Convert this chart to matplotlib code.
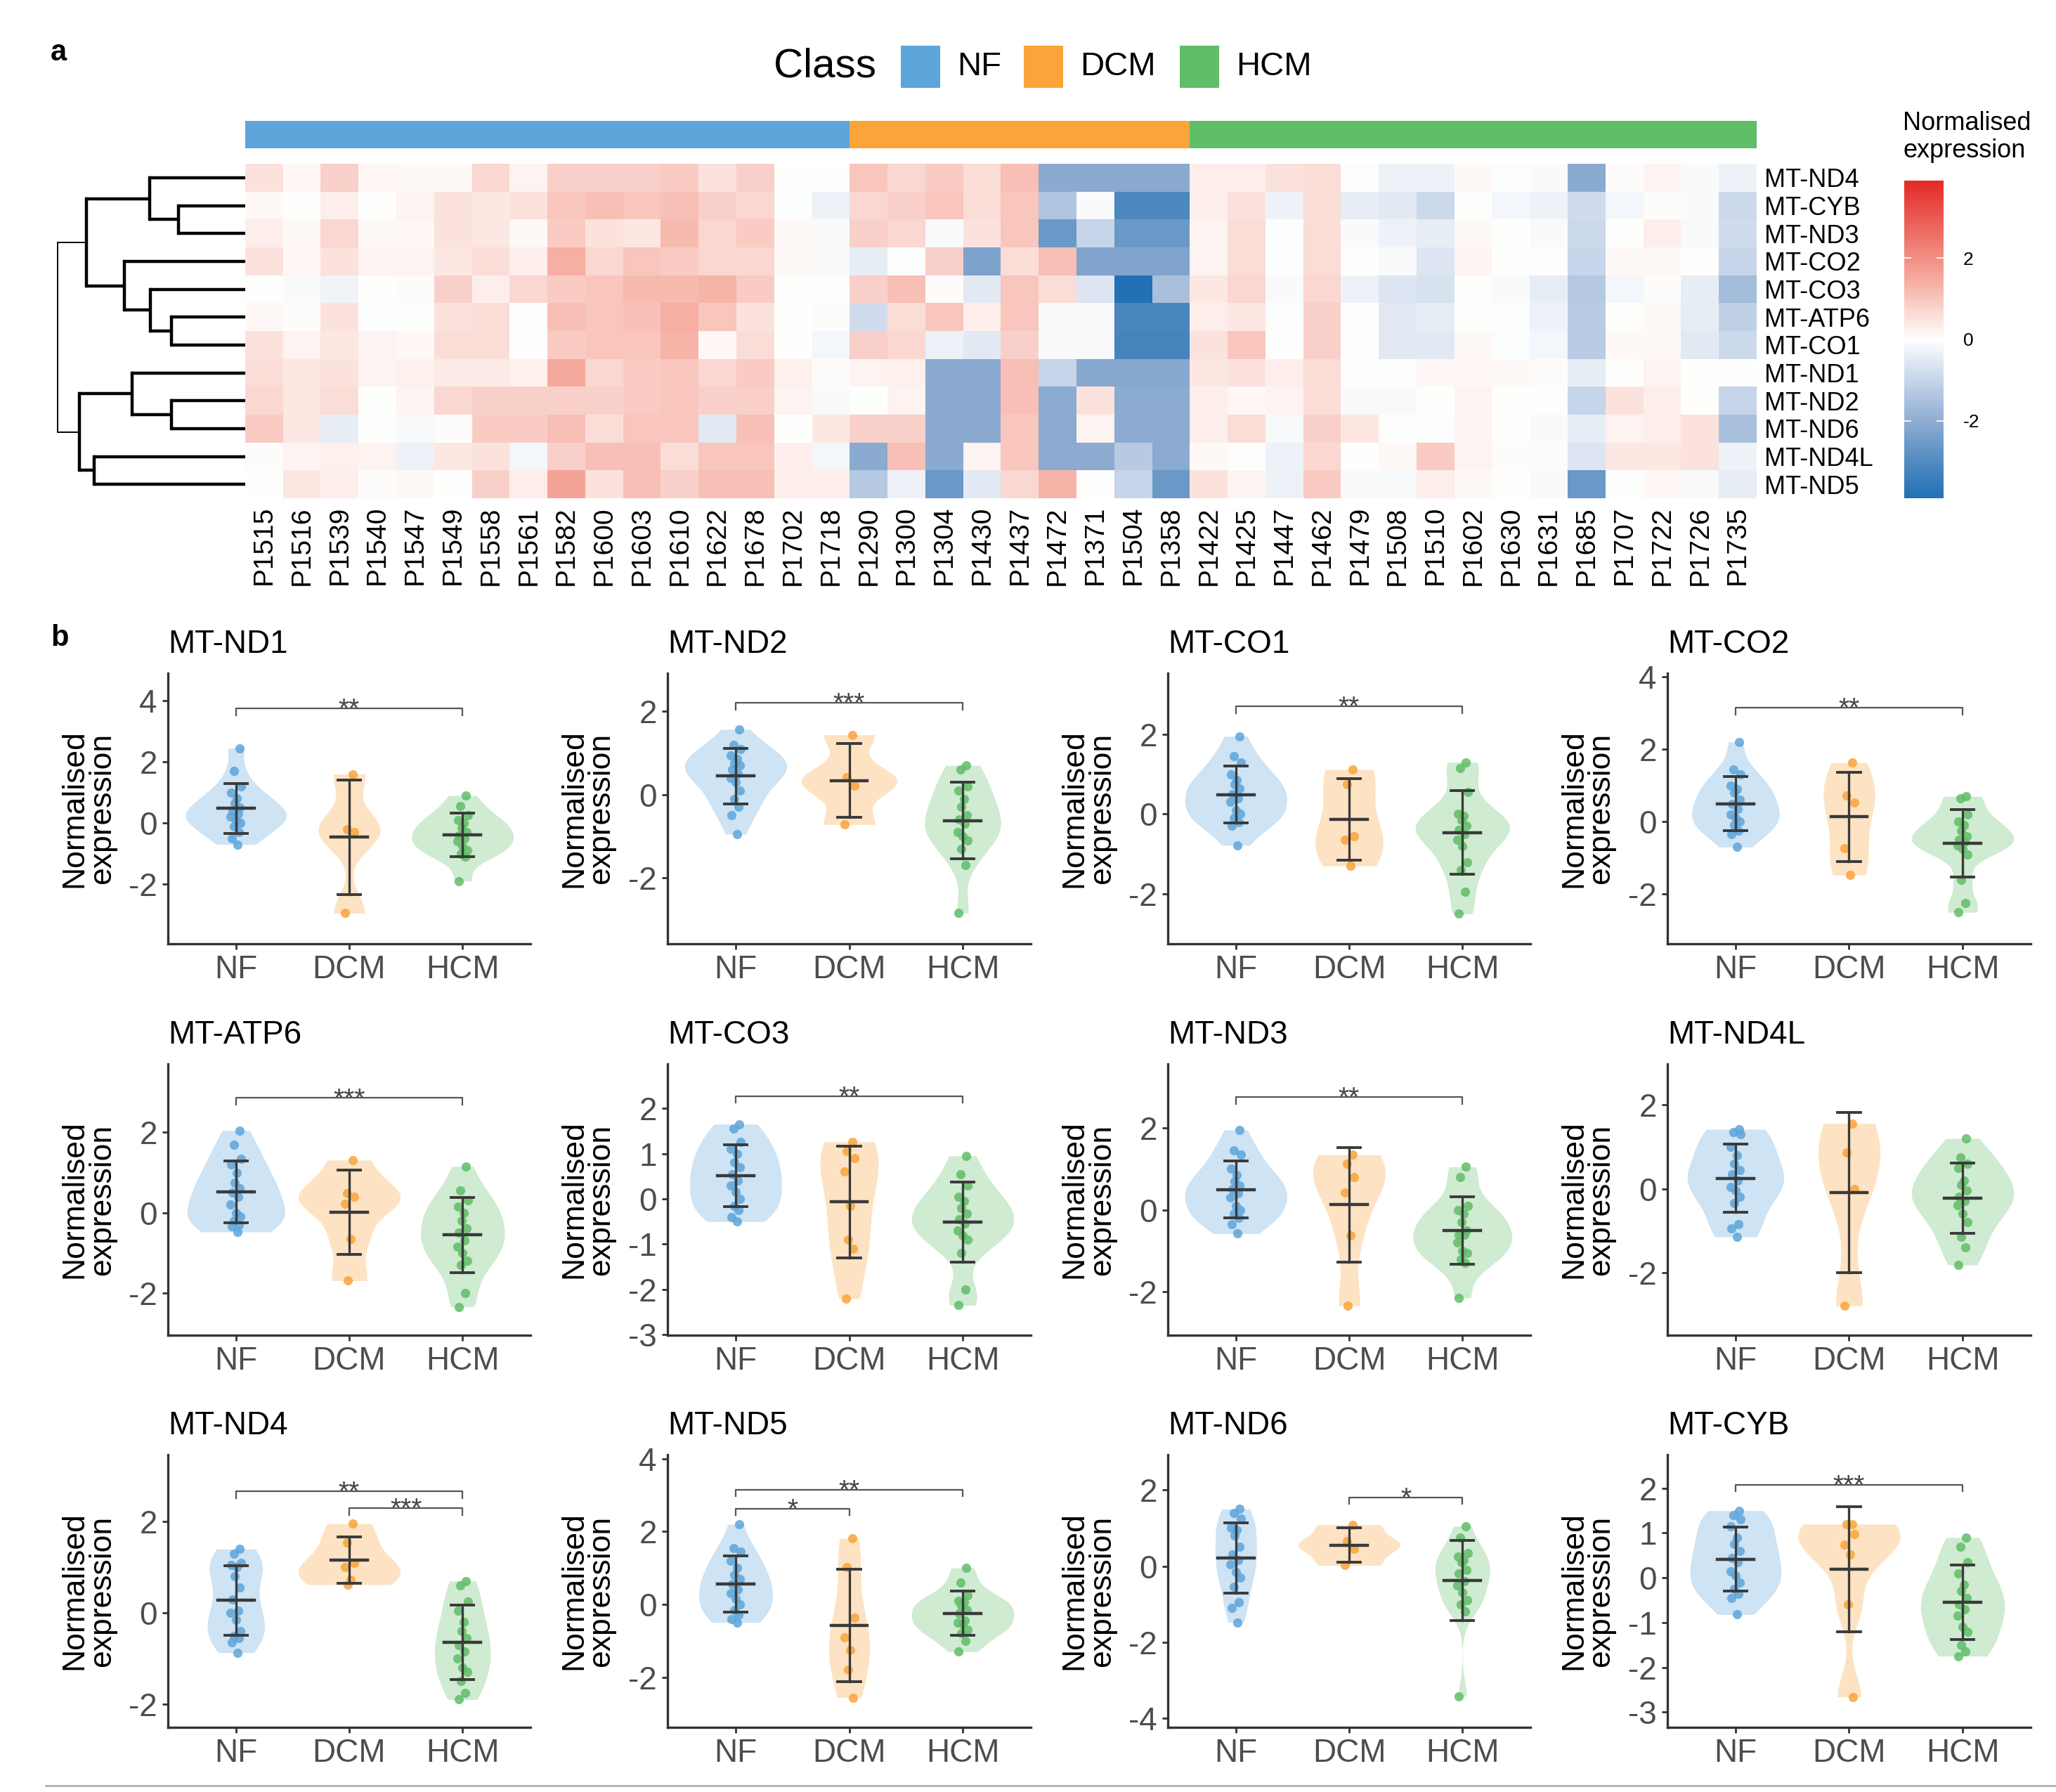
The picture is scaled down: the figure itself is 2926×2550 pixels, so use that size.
import numpy as np
import matplotlib
matplotlib.use("Agg")
import matplotlib.pyplot as plt
from matplotlib.colors import LinearSegmentedColormap, ListedColormap
from matplotlib.patches import Rectangle
from matplotlib.lines import Line2D

plt.rcParams['font.family'] = ['Liberation Sans', 'DejaVu Sans']
plt.rcParams['axes.unicode_minus'] = False

# ---------------- data ----------------
classes = ['NF', 'DCM', 'HCM']
class_colors = ['#5DA5DA', '#FAA43A', '#60BD68']

samples_nf = ['P1515', 'P1516', 'P1539', 'P1540', 'P1547', 'P1549', 'P1558', 'P1561',
              'P1582', 'P1600', 'P1603', 'P1610', 'P1622', 'P1678', 'P1702', 'P1718']
samples_dcm = ['P1290', 'P1300', 'P1304', 'P1430', 'P1437', 'P1472', 'P1371', 'P1504', 'P1358']
samples_hcm = ['P1422', 'P1425', 'P1447', 'P1462', 'P1479', 'P1508', 'P1510', 'P1602',
               'P1630', 'P1631', 'P1685', 'P1707', 'P1722', 'P1726', 'P1735']

heat_genes = ['MT-ND4', 'MT-CYB', 'MT-ND3', 'MT-CO2', 'MT-CO3', 'MT-ATP6',
              'MT-CO1', 'MT-ND1', 'MT-ND2', 'MT-ND6', 'MT-ND4L', 'MT-ND5']

# heatmap rows (columns follow NF, DCM, HCM sample order)
hm_nd4 = [0.5, 0.15, 0.8, 0.15, 0.1, 0.1, 0.7, 0.2, 0.8, 0.8, 0.8, 0.9, 0.5, 0.8, 0.0, 0.0,
          1.0, 0.7, 0.9, 0.6, 1.1, -2.1, -2.1, -2.1, -2.1,
          0.3, 0.3, 0.5, 0.6, -0.05, -0.3, -0.3, 0.1, -0.05, -0.1, -2.1, 0.05, 0.2, -0.1, -0.3]
hm_cyb = [0.1, 0.0, 0.3, 0.0, 0.2, 0.5, 0.4, 0.5, 1.0, 1.1, 1.0, 1.1, 0.8, 0.7, -0.05, -0.3,
          0.7, 0.8, 1.0, 0.6, 1.0, -1.4, -0.1, -3.1, -3.1,
          0.3, 0.5, -0.3, 0.6, -0.4, -0.5, -0.9, 0.0, -0.2, -0.3, -0.8, -0.2, 0.05, -0.1, -0.9]
hm_nd3 = [0.3, 0.1, 0.7, 0.1, 0.15, 0.5, 0.4, 0.1, 0.9, 0.5, 0.4, 1.2, 0.7, 0.9, 0.1, -0.1,
          0.8, 0.7, -0.1, 0.5, 1.0, -2.6, -1.0, -2.6, -2.6,
          0.2, 0.6, -0.05, 0.6, -0.1, -0.3, -0.4, 0.1, 0.0, -0.1, -0.9, 0.0, 0.3, -0.15, -0.8]
hm_co2 = [0.5, 0.15, 0.5, 0.2, 0.2, 0.4, 0.6, 0.3, 1.4, 0.7, 1.0, 0.9, 0.7, 0.7, 0.1, -0.1,
          -0.4, -0.05, 0.8, -2.3, 0.6, 1.1, -2.25, -2.25, -2.25,
          0.2, 0.6, -0.05, 0.6, 0.0, -0.1, -0.6, 0.2, 0.0, 0.0, -1.0, 0.1, 0.1, 0.0, -1.0]
hm_co3 = [0.0, -0.1, -0.25, 0.0, 0.05, 0.8, 0.3, 0.7, 0.9, 1.0, 1.2, 1.2, 1.3, 0.9, 0.0, -0.05,
          0.8, 1.1, 0.05, -0.5, 1.0, 0.6, -0.6, -3.85, -1.5,
          0.4, 0.7, -0.1, 0.7, -0.3, -0.6, -0.7, 0.0, -0.1, -0.4, -1.3, -0.2, 0.05, -0.4, -1.6]
hm_atp6 = [0.1, 0.05, 0.5, -0.05, 0.0, 0.5, 0.6, -0.02, 1.1, 1.0, 1.1, 1.4, 1.0, 0.5, 0.0, 0.05,
           -0.8, 0.6, 1.0, 0.3, 1.0, -0.15, -0.15, -3.15, -3.15,
           0.3, 0.4, -0.05, 0.8, 0.0, -0.5, -0.4, 0.0, -0.05, -0.3, -1.2, 0.0, 0.1, -0.4, -1.1]
hm_co1 = [0.5, 0.2, 0.4, 0.2, 0.15, 0.6, 0.6, 0.0, 0.9, 1.0, 1.0, 1.3, 0.15, 0.6, 0.0, -0.2,
          0.8, 0.7, -0.3, -0.5, 0.8, -0.1, -0.15, -3.2, -3.2,
          0.5, 1.0, 0.0, 0.8, 0.0, -0.5, -0.5, 0.1, -0.05, -0.2, -1.2, 0.1, 0.1, -0.5, -0.9]
hm_nd1 = [0.6, 0.4, 0.5, 0.2, 0.25, 0.35, 0.35, 0.25, 1.5, 0.7, 0.9, 1.0, 0.7, 0.9, 0.25, 0.05,
          0.2, 0.25, -2.1, -2.1, 1.1, -1.0, -2.15, -2.15, -2.15,
          0.4, 0.5, 0.3, 0.6, 0.0, -0.05, 0.15, 0.15, 0.1, 0.05, -0.4, 0.0, 0.2, 0.0, 0.0]
hm_nd2 = [0.7, 0.4, 0.6, 0.0, 0.2, 0.7, 0.8, 0.8, 0.8, 0.8, 0.9, 1.0, 0.8, 0.8, 0.2, -0.1,
          0.0, 0.2, -2.1, -2.1, 1.1, -2.05, 0.5, -2.05, -2.05,
          0.3, 0.15, 0.2, 0.6, -0.1, -0.15, 0.0, 0.2, 0.0, 0.0, -1.0, 0.5, 0.3, 0.0, -1.0]
hm_nd6 = [0.9, 0.4, -0.4, 0.0, -0.15, 0.05, 0.9, 0.9, 1.1, 0.6, 1.0, 1.0, -0.5, 1.1, 0.0, 0.4,
          0.8, 0.8, -2.1, -2.1, 1.0, -2.05, 0.2, -2.05, -2.05,
          0.3, 0.6, -0.15, 0.8, 0.4, -0.05, -0.05, 0.2, 0.0, -0.1, -0.4, 0.2, 0.3, 0.5, -1.5]
hm_nd4l = [0.05, 0.2, 0.25, 0.2, -0.3, 0.4, 0.5, -0.2, 0.8, 1.1, 1.1, 0.6, 1.0, 1.0, 0.3, -0.2,
           -2.1, 1.1, -2.1, 0.2, 1.0, -2.05, -2.05, -1.25, -2.05,
           0.1, 0.0, -0.3, 0.7, 0.0, 0.1, 0.9, 0.2, 0.05, 0.05, -0.6, 0.4, 0.4, 0.5, -0.3]
hm_nd5 = [0.0, 0.4, 0.3, 0.05, 0.1, 0.0, 0.8, 0.3, 1.6, 0.5, 1.1, 0.8, 1.1, 1.1, 0.3, 0.3,
          -1.3, -0.3, -2.6, -0.5, 0.7, 1.3, 0.0, -1.0, -2.6,
          0.5, 0.2, -0.3, 0.9, -0.1, -0.1, 0.3, 0.1, 0.0, -0.1, -2.6, 0.0, 0.15, -0.1, -0.4]

# row dendrogram merges: (child a, child b, height); leaves 0..11, new nodes from 12
dendro_merges = [(1, 2, 0.95), (0, 12, 1.36), (5, 6, 1.05), (4, 14, 1.35), (3, 15, 1.71),
                 (13, 16, 2.25), (8, 9, 1.05), (7, 18, 1.60), (10, 11, 2.14),
                 (19, 20, 2.35), (17, 21, 2.66)]

# violin panels: normalised expression per group
ND1 = dict(NF=[2.45, 1.7, 1.2, 1.0, 0.8, 0.65, 0.5, 0.4, 0.3, 0.2, 0.1, 0.0, -0.1, -0.3, -0.5, -0.7],
           DCM=[1.6, -0.2, -0.3, -2.95],
           HCM=[0.9, 0.55, 0.25, 0.1, 0.0, -0.15, -0.3, -0.4, -0.5, -0.6, -0.75, -0.9, -1.0, -1.1, -1.9])
ND2 = dict(NF=[1.57, 1.2, 1.1, 0.95, 0.85, 0.75, 0.7, 0.6, 0.5, 0.4, 0.3, 0.1, -0.1, -0.3, -0.5, -0.95],
           DCM=[1.44, 0.42, 0.22, -0.72],
           HCM=[0.7, 0.6, 0.2, 0.1, -0.1, -0.3, -0.5, -0.6, -0.7, -0.9, -1.0, -1.1, -1.3, -1.7, -2.85])
CO1 = dict(NF=[1.95, 1.45, 1.3, 1.0, 0.85, 0.75, 0.65, 0.5, 0.4, 0.3, 0.1, 0.0, -0.1, -0.2, -0.3, -0.78],
           DCM=[1.12, 0.75, -0.56, -0.65, -1.3],
           HCM=[1.3, 1.15, 0.55, 0.0, -0.05, -0.15, -0.3, -0.4, -0.5, -0.65, -0.8, -1.2, -1.4, -1.95, -2.5])
CO2 = dict(NF=[2.2, 1.45, 1.3, 1.0, 0.9, 0.8, 0.6, 0.5, 0.35, 0.2, 0.1, 0.0, -0.1, -0.25, -0.35, -0.7],
           DCM=[1.63, 0.73, 0.53, -0.73, -1.47],
           HCM=[0.7, 0.65, 0.2, 0.0, -0.1, -0.25, -0.4, -0.5, -0.55, -0.65, -0.75, -0.9, -1.6, -2.25, -2.5])
ATP6 = dict(NF=[2.05, 1.7, 1.35, 1.2, 1.0, 0.75, 0.6, 0.5, 0.4, 0.2, 0.0, -0.1, -0.2, -0.3, -0.35, -0.48],
            DCM=[1.31, 0.49, 0.4, 0.22, -0.66, -1.7],
            HCM=[1.15, 0.55, 0.3, 0.15, 0.0, -0.2, -0.4, -0.5, -0.7, -0.85, -1.0, -1.2, -1.3, -2.0, -2.35])
CO3 = dict(NF=[1.65, 1.55, 1.25, 1.1, 1.0, 0.8, 0.7, 0.55, 0.4, 0.3, 0.15, 0.0, -0.15, -0.25, -0.4, -0.5],
           DCM=[1.26, 1.05, 0.9, 0.6, -0.15, -0.9, -1.1, -2.2],
           HCM=[0.95, 0.55, 0.3, 0.05, -0.05, -0.2, -0.32, -0.45, -0.55, -0.7, -0.8, -0.9, -1.2, -2.0, -2.35])
ND3 = dict(NF=[1.95, 1.45, 1.35, 1.0, 0.85, 0.7, 0.6, 0.5, 0.4, 0.3, 0.1, 0.0, -0.1, -0.2, -0.35, -0.58],
           DCM=[1.34, 1.13, 0.8, 0.42, -0.62, -2.34],
           HCM=[1.05, 0.8, 0.1, 0.0, -0.1, -0.3, -0.5, -0.6, -0.6, -0.8, -1.0, -1.05, -1.2, -1.3, -2.15])
ND4L = dict(NF=[1.42, 1.35, 1.3, 1.0, 0.8, 0.6, 0.45, 0.35, 0.2, 0.05, -0.05, -0.2, -0.35, -0.85, -0.95, -1.15],
            DCM=[1.56, 0.86, -0.01, -2.8],
            HCM=[1.2, 0.75, 0.6, 0.5, 0.2, 0.1, -0.05, -0.2, -0.3, -0.4, -0.6, -0.8, -1.15, -1.4, -1.82])
ND4 = dict(NF=[1.4, 1.3, 1.1, 1.05, 1.0, 0.8, 0.55, 0.3, 0.05, 0.0, -0.15, -0.4, -0.5, -0.55, -0.65, -0.87],
           DCM=[1.96, 1.55, 1.1, 1.0, 0.72, 0.62],
           HCM=[0.7, 0.6, 0.25, 0.05, -0.2, -0.4, -0.55, -0.7, -0.85, -1.0, -1.2, -1.3, -1.5, -1.75, -1.9])
ND5 = dict(NF=[2.2, 1.55, 1.45, 1.2, 1.0, 0.8, 0.7, 0.55, 0.4, 0.3, 0.15, 0.0, -0.15, -0.3, -0.4, -0.5],
           DCM=[1.81, 1.02, -0.36, -0.9, -1.25, -1.8, -2.56],
           HCM=[1.0, 0.6, 0.25, 0.1, 0.05, -0.05, -0.15, -0.25, -0.45, -0.5, -0.55, -0.7, -0.8, -1.0, -1.3])
ND6 = dict(NF=[1.5, 1.4, 1.25, 1.0, 0.95, 0.8, 0.5, 0.3, 0.15, 0.05, -0.15, -0.3, -0.55, -0.95, -1.1, -1.48],
           DCM=[1.09, 0.66, 0.45, 0.02],
           HCM=[1.05, 0.75, 0.35, 0.25, 0.15, 0.1, -0.1, -0.2, -0.4, -0.5, -0.7, -0.9, -1.0, -1.2, -3.42])
CYB = dict(NF=[1.5, 1.4, 1.3, 1.15, 0.9, 0.75, 0.6, 0.45, 0.35, 0.15, 0.05, -0.1, -0.25, -0.35, -0.45, -0.82],
           DCM=[1.2, 1.19, 0.97, 0.74, 0.52, -0.6, -2.66],
           HCM=[0.9, 0.7, 0.35, 0.1, -0.15, -0.3, -0.45, -0.6, -0.7, -0.85, -1.1, -1.2, -1.5, -1.65, -1.75])

panel_genes = ['MT-ND1', 'MT-ND2', 'MT-CO1', 'MT-CO2',
               'MT-ATP6', 'MT-CO3', 'MT-ND3', 'MT-ND4L',
               'MT-ND4', 'MT-ND5', 'MT-ND6', 'MT-CYB']
panel_data = [ND1, ND2, CO1, CO2, ATP6, CO3, ND3, ND4L, ND4, ND5, ND6, CYB]

# significance brackets: (group a, group b, y, label)
signif = {
    'MT-ND1': [(0, 2, 3.75, '**')],
    'MT-ND2': [(0, 2, 2.21, '***')],
    'MT-CO1': [(0, 2, 2.7, '**')],
    'MT-CO2': [(0, 2, 3.15, '**')],
    'MT-ATP6': [(0, 2, 2.86, '***')],
    'MT-CO3': [(0, 2, 2.27, '**')],
    'MT-ND3': [(0, 2, 2.75, '**')],
    'MT-ND4L': [],
    'MT-ND4': [(0, 2, 2.67, '**'), (1, 2, 2.3, '***')],
    'MT-ND5': [(0, 2, 3.15, '**'), (0, 1, 2.63, '*')],
    'MT-ND6': [(1, 2, 1.81, '*')],
    'MT-CYB': [(0, 2, 2.08, '***')],
}

# axis ranges / ticks per panel
panel_ylim = [(-3.95, 4.9), (-3.59, 2.92), (-3.25, 3.53), (-3.37, 4.1),
              (-3.06, 3.71), (-3.01, 2.98), (-3.06, 3.56), (-3.5, 2.98),
              (-2.51, 3.47), (-3.38, 4.11), (-4.24, 2.93), (-3.34, 2.75)]
panel_ticks = [[-2, 0, 2, 4], [-2, 0, 2], [-2, 0, 2], [-2, 0, 2, 4],
               [-2, 0, 2], [-3, -2, -1, 0, 1, 2], [-2, 0, 2], [-2, 0, 2],
               [-2, 0, 2], [-2, 0, 2, 4], [-4, -2, 0, 2], [-3, -2, -1, 0, 1, 2]]

JITTER = [0.03, -0.02, 0.045, -0.04, 0.01, -0.01, 0.035, -0.03,
          0.02, -0.045, 0.0, 0.04, -0.015, 0.025, -0.035, 0.015]

# ---------------- layout helpers ----------------
W, H = 2926, 2550


def box(x0, y0, x1, y1):
    return [x0 / W, 1 - y1 / H, (x1 - x0) / W, (y1 - y0) / H]


fig = plt.figure(figsize=(W / 100, H / 100), dpi=100)

# ---------------- panel a: heatmap ----------------
samples = samples_nf + samples_dcm + samples_hcm
sample_class = [0] * len(samples_nf) + [1] * len(samples_dcm) + [2] * len(samples_hcm)
heat = np.array([hm_nd4, hm_cyb, hm_nd3, hm_co2, hm_co3, hm_atp6,
                 hm_co1, hm_nd1, hm_nd2, hm_nd6, hm_nd4l, hm_nd5])

# blue-white-red ramp, with mid stops to mimic the LAB-style blend
cmap = LinearSegmentedColormap.from_list('ch', [
    (0.0, '#2171B5'), (0.096, '#4A86BF'), (0.231, '#8AAAD0'), (0.372, '#C6D5E9'),
    (0.5, '#FFFFFF'), (0.68, '#F6AFA2'), (1.0, '#E32A26')])

ax_hm = fig.add_axes(box(349, 233, 2500, 709))
im = ax_hm.imshow(heat, cmap=cmap, vmin=-3.9, vmax=3.9, aspect='auto', interpolation='nearest')
ax_hm.set_xticks(range(len(samples)))
ax_hm.set_xticklabels(samples, rotation=90, fontsize=28)
ax_hm.set_yticks(range(len(heat_genes)))
ax_hm.set_yticklabels(heat_genes, fontsize=26)
ax_hm.yaxis.tick_right()
ax_hm.tick_params(length=0, pad=8)
for s in ax_hm.spines.values():
    s.set_visible(False)

# class annotation bar
ax_ann = fig.add_axes(box(349, 172, 2500, 211))
ax_ann.imshow(np.array([sample_class]), cmap=ListedColormap(class_colors), vmin=0, vmax=2,
              aspect='auto', interpolation='nearest')
ax_ann.axis('off')

# class legend
fig.text(1101 / W, 1 - 95 / H, 'Class', fontsize=42, ha='left', va='center')
legend_x = [1282, 1457, 1679]
for cls, col, x in zip(classes, class_colors, legend_x):
    fig.add_artist(Rectangle((x / W, 1 - 125 / H), 56 / W, 60 / H,
                             transform=fig.transFigure, color=col, lw=0))
    fig.text((x + 80) / W, 1 - 95 / H, cls, fontsize=34, ha='left', va='center')

# dendrogram
ax_d = fig.add_axes(box(70, 233, 349, 709))
ypos = {i: float(i) for i in range(len(heat_genes))}
hgt = {i: 0.0 for i in range(len(heat_genes))}
for k, (a, b, h) in enumerate(dendro_merges):
    node = len(heat_genes) + k
    lw = 1.4 if k == len(dendro_merges) - 1 else 3.2
    ax_d.plot([hgt[a], h], [ypos[a], ypos[a]], color='black', lw=lw, solid_capstyle='butt')
    ax_d.plot([hgt[b], h], [ypos[b], ypos[b]], color='black', lw=lw, solid_capstyle='butt')
    ax_d.plot([h, h], [ypos[a], ypos[b]], color='black', lw=lw, solid_capstyle='projecting')
    ypos[node] = (ypos[a] + ypos[b]) / 2
    hgt[node] = h
ax_d.set_xlim(2.78, 0)
ax_d.set_ylim(len(heat_genes) - 0.5, -0.5)
ax_d.axis('off')

# colorbar
cax = fig.add_axes(box(2710, 257, 2766, 709))
cb = fig.colorbar(im, cax=cax, ticks=[-2, 0, 2])
cb.outline.set_visible(False)
cax.tick_params(labelsize=19, length=7, width=1.2, color='white', direction='in',
                left=True, right=True, pad=20)
fig.text(2708 / W, 1 - 158 / H, 'Normalised\nexpression', fontsize=26, ha='left', va='top',
         linespacing=1.15)

fig.text(72 / W, 1 - 75 / H, 'a', fontsize=30, fontweight='bold', ha='left', va='center')
fig.text(72 / W, 1 - 908 / H, 'b', fontsize=30, fontweight='bold', ha='left', va='center')

# ---------------- panel b: violins ----------------
col_x = [(239, 755), (950, 1467), (1662, 2178), (2373, 2890)]
row_y = [(958, 1343), (1514, 1900), (2070, 2458)]


def kde_trim(vals, n=512):
    v = np.asarray(vals, dtype=float)
    sd = v.std(ddof=1)
    q75, q25 = np.percentile(v, [75, 25])
    lo = min(sd, (q75 - q25) / 1.34)
    if lo <= 0:
        lo = sd
    bw = 0.9 * lo * len(v) ** -0.2
    grid = np.linspace(v.min(), v.max(), n)
    dens = np.exp(-0.5 * ((grid[:, None] - v[None, :]) / bw) ** 2).sum(1) / (len(v) * bw * np.sqrt(2 * np.pi))
    return grid, dens


for idx, (gene, data) in enumerate(zip(panel_genes, panel_data)):
    r, c = divmod(idx, 4)
    x0, x1 = col_x[c]
    y0, y1 = row_y[r]
    ax = fig.add_axes(box(x0, y0, x1, y1))

    kdes = [kde_trim(data[g]) for g in classes]
    dmax = max(d.max() for _, d in kdes)
    for i, (g, col) in enumerate(zip(classes, class_colors)):
        xc = i + 1
        grid, dens = kdes[i]
        half = 0.45 * dens / dmax
        ax.fill_betweenx(grid, xc - half, xc + half, color=col, alpha=0.3, lw=0, zorder=1)
        vals = np.asarray(data[g])
        jit = np.array(JITTER[:len(vals)])
        ax.scatter(xc + jit, vals, s=90, color=col, alpha=0.85, lw=0, zorder=2)
        m = vals.mean()
        sd = vals.std(ddof=1)
        ax.plot([xc, xc], [m - sd, m + sd], color='#3A3A3A', lw=2.4, zorder=3)
        for yy in (m - sd, m + sd):
            ax.plot([xc - 0.1, xc + 0.1], [yy, yy], color='#3A3A3A', lw=2.8, zorder=3)
        ax.plot([xc - 0.16, xc + 0.16], [m, m], color='#3A3A3A', lw=3.2, zorder=3)

    ylo, yhi = panel_ylim[idx]
    leg = 0.025 * (yhi - ylo)
    for a, b, yb, lab in signif[gene]:
        ax.plot([a + 1, a + 1, b + 1, b + 1], [yb - leg, yb, yb, yb - leg],
                color='#555555', lw=1.6, zorder=4)
        ax.annotate(lab, xy=((a + b) / 2 + 1, yb), xytext=(0, -9), textcoords='offset points',
                    ha='center', va='baseline', fontsize=28, color='#444444')

    ax.set_xlim(0.4, 3.6)
    ax.set_ylim(ylo, yhi)
    ax.set_xticks([1, 2, 3])
    ax.set_xticklabels(classes)
    ax.set_yticks(panel_ticks[idx])
    ax.tick_params(labelsize=33, labelcolor='#4D4D4D', color='#333333', length=6, width=2, pad=5)
    for s in ('top', 'right'):
        ax.spines[s].set_visible(False)
    for s in ('left', 'bottom'):
        ax.spines[s].set_color('#333333')
        ax.spines[s].set_linewidth(2.4)
    ax.set_title(gene, loc='left', fontsize=33, pad=21)
    ax.text(-0.22, 0.5, 'Normalised\nexpression', transform=ax.transAxes, rotation=90,
            ha='center', va='center', fontsize=32, linespacing=0.95)

fig.add_artist(Line2D([65 / W, 1.0], [1 - 2541 / H, 1 - 2541 / H], transform=fig.transFigure,
                      color='#B0B0B0', lw=2))

fig.savefig('out.png', dpi=100)
